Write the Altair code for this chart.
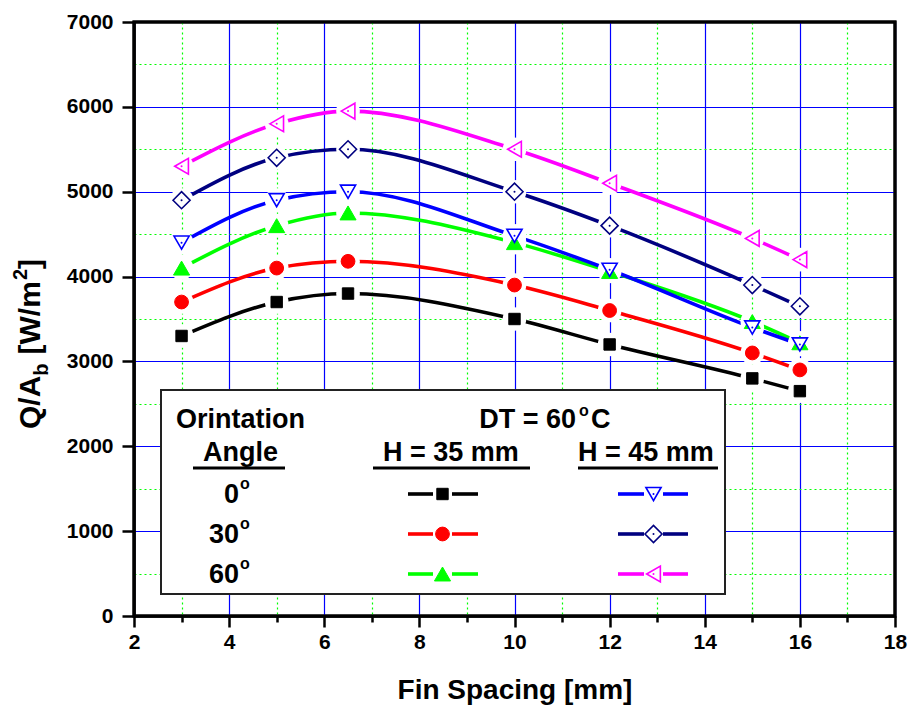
import altair as alt
import pandas as pd

# ---------------- data ----------------
fin_spacing = [3, 5, 6.5, 10, 12, 15, 16]
q_h35_0 = [3300, 3700, 3800, 3500, 3200, 2800, 2650]
q_h35_30 = [3700, 4100, 4180, 3900, 3600, 3100, 2900]
q_h35_60 = [4100, 4600, 4750, 4400, 4060, 3470, 3220]
q_h45_0 = [4400, 4900, 5000, 4480, 4080, 3400, 3200]
q_h45_30 = [4900, 5400, 5500, 5000, 4600, 3900, 3650]
q_h45_60 = [5300, 5800, 5950, 5500, 5100, 4450, 4200]

series_keys = ["H35_0", "H35_30", "H35_60", "H45_0", "H45_30", "H45_60"]
series_values = [q_h35_0, q_h35_30, q_h35_60, q_h45_0, q_h45_30, q_h45_60]

x_major = [2, 4, 6, 8, 10, 12, 14, 16, 18]
x_minor = [3, 5, 7, 9, 11, 13, 15, 17]
y_major = [0, 1000, 2000, 3000, 4000, 5000, 6000, 7000]
y_minor = [500, 1500, 2500, 3500, 4500, 5500, 6500]

angle_labels = ["0", "30", "60"]

# ---------------- styles ----------------
colors = ["#000000", "#ff0000", "#00ff00", "#0000ff", "#000080", "#ff00ff"]
shapes = ["square", "circle", "triangle-up", "triangle-down", "diamond", "triangle-left"]
is_open = [False, False, False, True, True, True]
sizes = [130, 190, 260, 230, 290, 250]

FONT = "Liberation Sans"
W, H = 761, 594

rows = []
for key, vals in zip(series_keys, series_values):
    for xv, qv in zip(fin_spacing, vals):
        rows.append({"series": key, "x": xv, "q": qv})
df = pd.DataFrame(rows)
one = pd.DataFrame({"k": [0]})

xs = alt.Scale(domain=[2, 18], nice=False, zero=False)
ys = alt.Scale(domain=[0, 7000], nice=False, zero=False)

major_x = alt.Axis(
    values=x_major, orient="bottom", grid=True, gridColor="#0000ff", gridWidth=1.2,
    domain=True, domainColor="black", domainWidth=2.5,
    ticks=True, tickSize=11, tickWidth=2.5, tickColor="black",
    labels=True, labelFont=FONT, labelFontWeight="bold", labelFontSize=21,
    labelColor="black", labelPadding=4, labelFlush=False, labelOverlap=False,
    format="d",
    title="Fin Spacing [mm]", titleFont=FONT, titleFontWeight="bold",
    titleFontSize=28, titleColor="black", titleY=82, titleBaseline="alphabetic",
)
minor_x = alt.Axis(
    values=x_minor, orient="bottom", grid=True, gridColor="#00ff00",
    gridDash=[2, 3], gridWidth=1.2, domain=False,
    ticks=True, tickSize=6, tickWidth=2.5, tickColor="black",
    labels=False, title=None,
)
major_y = alt.Axis(
    values=y_major, orient="left", grid=True, gridColor="#0000ff", gridWidth=1.2,
    domain=True, domainColor="black", domainWidth=2.5,
    ticks=True, tickSize=12, tickWidth=2.5, tickColor="black",
    labels=True, labelFont=FONT, labelFontWeight="bold", labelFontSize=21,
    labelColor="black", labelPadding=9, labelFlush=False, labelOverlap=False,
    format="d", title=None,
)
minor_y = alt.Axis(
    values=y_minor, orient="left", grid=True, gridColor="#00ff00",
    gridDash=[2, 3], gridWidth=1.2, domain=False, ticks=False,
    labels=False, title=None,
)

layers = []

# minor grid carrier (invisible)
layers.append(
    alt.Chart(df).mark_point(opacity=0).encode(
        x=alt.X("x:Q", scale=xs, axis=minor_x),
        y=alt.Y("q:Q", scale=ys, axis=minor_y),
    )
)

# curves
layers.append(
    alt.Chart(df).mark_line(interpolate="monotone", strokeWidth=3.6).encode(
        x=alt.X("x:Q", scale=xs, axis=major_x),
        y=alt.Y("q:Q", scale=ys, axis=major_y),
        color=alt.Color("series:N", scale=alt.Scale(domain=series_keys, range=colors), legend=None),
    )
)

# white halos to create gaps around markers
layers.append(
    alt.Chart(df).mark_point(shape="circle", filled=True, color="white", opacity=1, size=560).encode(
        x=alt.X("x:Q", scale=xs, axis=None),
        y=alt.Y("q:Q", scale=ys, axis=None),
    )
)

# markers
for key, col, shp, op, sz in zip(series_keys, colors, shapes, is_open, sizes):
    layers.append(
        alt.Chart(df).transform_filter(alt.datum.series == key).mark_point(
            shape=shp, size=sz, fill="white" if op else col, stroke=col,
            strokeWidth=1.6 if op else 1, opacity=1, fillOpacity=1,
        ).encode(
            x=alt.X("x:Q", scale=xs, axis=None),
            y=alt.Y("q:Q", scale=ys, axis=None),
        )
    )
    if op:
        layers.append(
            alt.Chart(df).transform_filter(alt.datum.series == key).mark_point(
                shape="circle", size=4, filled=True, color=col, opacity=1,
            ).encode(
                x=alt.X("x:Q", scale=xs, axis=None),
                y=alt.Y("q:Q", scale=ys, axis=None),
            )
        )


def txt(text, x, y, size, align="left", baseline="alphabetic", angle=None):
    kw = dict(align=align, baseline=baseline, font=FONT, fontWeight="bold",
              fontSize=size, color="black")
    if angle is not None:
        kw["angle"] = angle
    return alt.Chart(one).mark_text(**kw).encode(
        x=alt.value(x), y=alt.value(y), text=alt.value(text)
    )


def hrule(x1, x2, y, col, width):
    return alt.Chart(one).mark_rule(color=col, strokeWidth=width).encode(
        x=alt.value(x1), x2=alt.value(x2), y=alt.value(y)
    )


# ---------------- y-axis title (with sub/superscript) ----------------
# (text, font size, baseline x, advance in em, extra gap after)
pieces = [
    ("Q/A", 30, -94, 1.778, 0),
    ("b", 20, -86, 0.611, 9),
    ("[W/m", 30, -94, 2.444, 1),
    ("2", 20, -107, 0.556, 0),
    ("]", 30, -94, 0.333, 0),
]
pos = 407.0
for t, s, xb, em, gap in pieces:
    layers.append(txt(t, xb, pos, s, align="left", baseline="alphabetic", angle=270))
    pos -= em * s + gap

# ---------------- legend ----------------
layers.append(
    alt.Chart(one).mark_rect(fill="white", stroke="#222222", strokeWidth=2).encode(
        x=alt.value(27), x2=alt.value(591), y=alt.value(368), y2=alt.value(572)
    )
)
layers.append(txt("Orintation", 42, 406, 27))
layers.append(txt("DT = 60", 442, 406, 27, align="right"))
layers.append(txt("o", 445, 394, 16))
layers.append(txt("C", 457, 406, 27))
layers.append(txt("Angle", 69, 439, 27))
layers.append(txt("H = 35 mm", 249, 439, 27))
layers.append(txt("H = 45 mm", 444, 439, 27))
layers.append(hrule(59, 151, 446, "black", 3))
layers.append(hrule(239, 396, 446, "black", 3))
layers.append(hrule(444, 584, 446, "black", 3))

row_y = [472, 512, 552]
for lab, ry in zip(angle_labels, row_y):
    layers.append(txt(lab, 105, ry + 9, 27, align="right"))
    layers.append(txt("o", 106, ry - 5, 16))

legend_cols = [(274, 299, 318, 344, 308.5), (484, 510, 529, 554, 519.5)]
for i, (key, col, shp, op, sz) in enumerate(zip(series_keys, colors, shapes, is_open, sizes)):
    c = legend_cols[0 if i < 3 else 1]
    ry = row_y[i % 3]
    layers.append(hrule(c[0], c[1], ry, col, 3.6))
    layers.append(hrule(c[2], c[3], ry, col, 3.6))
    layers.append(
        alt.Chart(one).mark_point(
            shape=shp, size=sz, fill="white" if op else col, stroke=col,
            strokeWidth=1.6 if op else 1, opacity=1, fillOpacity=1,
        ).encode(x=alt.value(c[4]), y=alt.value(ry))
    )
    if op:
        layers.append(
            alt.Chart(one).mark_point(shape="circle", size=4, filled=True, color=col, opacity=1)
            .encode(x=alt.value(c[4]), y=alt.value(ry))
        )

# frame around plot
layers.append(
    alt.Chart(one).mark_rect(fill="transparent", stroke="black", strokeWidth=3).encode(
        x=alt.value(0), x2=alt.value(W), y=alt.value(0), y2=alt.value(H)
    )
)

chart = (
    alt.layer(*layers)
    .resolve_axis(x="independent", y="independent")
    .properties(
        width=W, height=H,
        padding={"left": 134, "top": 22, "right": 17, "bottom": 90},
        autosize=alt.AutoSizeParams(type="none"),
        background="white",
    )
    .configure_view(stroke="black", strokeWidth=3)
)

chart.save("out.html", embed_options={"renderer": "svg", "actions": False})
